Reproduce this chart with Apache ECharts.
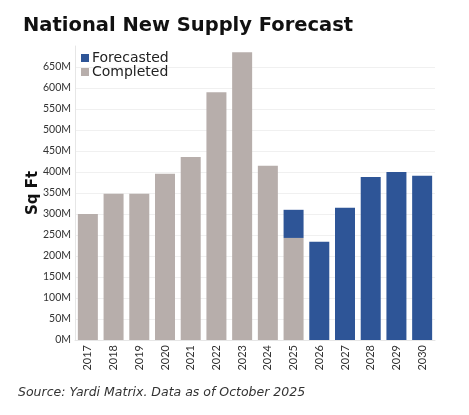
<!DOCTYPE html>
<html>
<head>
<meta charset="utf-8">
<script src="https://cdn.jsdelivr.net/npm/echarts@6/dist/echarts.min.js"></script>
<style>
  html, body { margin: 0; padding: 0; background: #fff; }
  #chart { width: 469px; height: 415px; }
</style>
</head>
<body>
<div id="chart"></div>
<script>
// years on the x axis
var years = ['2017', '2018', '2019', '2020', '2021', '2022', '2023', '2024', '2025', '2026', '2027', '2028', '2029', '2030']
// completed supply, millions of sq ft
var completed = [300, 348, 348, 396, 436, 590, 685, 415, 243, null, null, null, null, null]
// forecasted supply, millions of sq ft (2025 = part still to come, stacked on completed)
var forecasted = [null, null, null, null, null, null, null, null, 67, 234, 315, 388, 400, 391]

var grayColor = '#b7aeab'
var blueColor = '#2e5597'
var textColor = '#333'

var chart = echarts.init(document.getElementById('chart'))

chart.setOption({
  animation: false,
  title: {
    text: 'National New Supply Forecast',
    left: 18,
    top: 11,
    textStyle: {fontFamily: 'DejaVu Sans', fontWeight: 'bold', fontSize: 19.5, color: '#111'}
  },
  graphic: [{
    type: 'text',
    left: 18,
    top: 386,
    style: {
      text: 'Source: Yardi Matrix. Data as of October 2025',
      font: 'italic 12.5px "DejaVu Sans"',
      fill: textColor
    }
  }],
  legend: {
    data: ['Forecasted', 'Completed'],
    orient: 'vertical',
    left: 76,
    top: 46,
    itemWidth: 8,
    itemHeight: 8,
    itemGap: 0,
    icon: 'rect',
    textStyle: {fontFamily: 'DejaVu Sans', fontSize: 14, color: '#222', padding: [0, 0, 0, -2]}
  },
  grid: {left: 75, right: 34, top: 46, bottom: 75},
  xAxis: {
    type: 'category',
    data: years,
    axisLine: {lineStyle: {color: '#e6e6e6'}},
    axisTick: {show: false},
    axisLabel: {rotate: 90, fontFamily: 'Lato', fontSize: 11, color: textColor, margin: 5}
  },
  yAxis: {
    type: 'value',
    min: 0,
    max: 700,
    interval: 50,
    name: 'Sq Ft',
    nameLocation: 'middle',
    nameGap: 34,
    nameMoveOverlap: false,
    nameTextStyle: {fontFamily: 'DejaVu Sans', fontWeight: 'bold', fontSize: 15, color: '#111'},
    axisLine: {show: true, lineStyle: {color: '#e6e6e6'}},
    axisTick: {show: false},
    axisLabel: {
      showMaxLabel: false,
      fontFamily: 'Lato',
      fontSize: 10.5,
      color: textColor,
      margin: 4,
      formatter: function (v) { return v + 'M' }
    },
    splitLine: {showMaxLine: false, lineStyle: {color: '#f0f0f0'}}
  },
  series: [{
    name: 'Completed',
    type: 'bar',
    stack: 'supply',
    barWidth: 20,
    itemStyle: {color: grayColor},
    data: completed
  }, {
    name: 'Forecasted',
    type: 'bar',
    stack: 'supply',
    barWidth: 20,
    itemStyle: {color: blueColor},
    data: forecasted
  }]
})
</script>
</body>
</html>
